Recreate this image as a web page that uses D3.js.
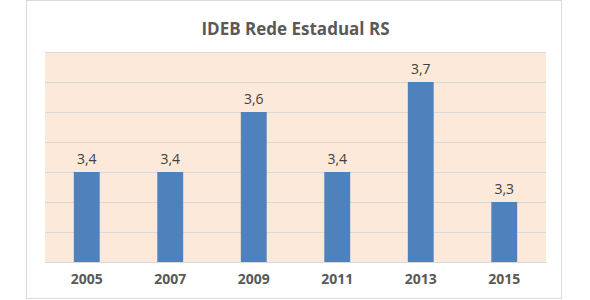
<!DOCTYPE html>
<html>
<head>
<meta charset="utf-8">
<script src="https://cdn.jsdelivr.net/npm/d3@7"></script>
<style>
  body { margin: 0; background: #fff; }
  svg { display: block; font-family: "Open Sans", "DejaVu Sans", sans-serif; }
</style>
</head>
<body>
<div id="chart"></div>
<script>
// chart data
const years = ["2005", "2007", "2009", "2011", "2013", "2015"];
const ideb = [3.4, 3.4, 3.6, 3.4, 3.7, 3.3];
const gridTicks = [3.1, 3.2, 3.3, 3.4, 3.5, 3.6, 3.7, 3.8];
const chartTitle = "IDEB Rede Estadual RS";

const width = 590, height = 300;
const plot = { left: 45, right: 546, top: 52, bottom: 262 };

const svg = d3.select("#chart").append("svg")
    .attr("width", width)
    .attr("height", height);

// outer chart border
svg.append("rect")
    .attr("x", 26.5).attr("y", 0.5)
    .attr("width", 535).attr("height", 298)
    .attr("fill", "#fff")
    .attr("stroke", "#d9d9d9");

// plot background
svg.append("rect")
    .attr("x", plot.left).attr("y", plot.top)
    .attr("width", plot.right - plot.left).attr("height", plot.bottom - plot.top)
    .attr("fill", "#fde9d9");

// scales
const x = d3.scaleBand().domain(years).range([plot.left, plot.right]).paddingInner(0.69).paddingOuter(0.345);
const y = d3.scaleLinear().domain([3.1, 3.8]).range([plot.bottom, plot.top]);

// gridlines
svg.append("g").selectAll("line").data(gridTicks).join("line")
    .attr("x1", plot.left).attr("x2", plot.right)
    .attr("y1", d => Math.round(y(d)) + 0.5).attr("y2", d => Math.round(y(d)) + 0.5)
    .attr("stroke", "#d9d9d9");

// bars
svg.append("g").selectAll("rect").data(ideb).join("rect")
    .attr("x", (d, i) => x(years[i]))
    .attr("y", d => y(d))
    .attr("width", x.bandwidth())
    .attr("height", d => plot.bottom - y(d))
    .attr("fill", "#4f81bd");

// value labels
svg.append("g").selectAll("text").data(ideb).join("text")
    .attr("x", (d, i) => x(years[i]) + x.bandwidth() / 2)
    .attr("y", d => y(d) - 8)
    .attr("text-anchor", "middle")
    .attr("font-size", "14px")
    .attr("fill", "#404040")
    .text(d => d.toFixed(1).replace(".", ","));

// x axis
const xAxis = svg.append("g")
    .attr("transform", `translate(0,${plot.bottom})`)
    .call(d3.axisBottom(x).tickSize(0).tickPadding(12));
xAxis.select(".domain").attr("stroke", "#d9d9d9");
xAxis.selectAll("text")
    .attr("font-size", "14px")
    .attr("font-weight", "bold")
    .attr("font-family", "\"Open Sans\", sans-serif")
    .attr("fill", "#595959");

// title
svg.append("text")
    .attr("x", (plot.left + plot.right) / 2)
    .attr("y", 35)
    .attr("text-anchor", "middle")
    .attr("font-size", "17px")
    .attr("font-weight", "bold")
    .attr("fill", "#595959")
    .text(chartTitle);
</script>
</body>
</html>
